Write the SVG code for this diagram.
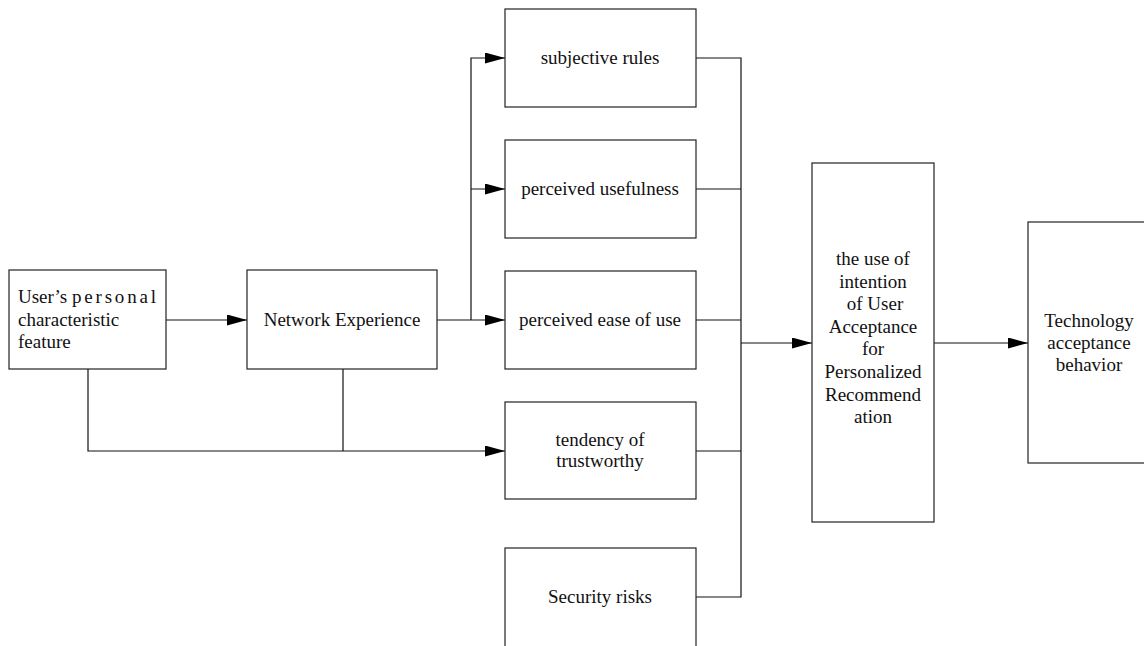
<svg xmlns="http://www.w3.org/2000/svg" width="1144" height="646" viewBox="0 0 1144 646">
<style>
.box{fill:#fff;stroke:#222;stroke-width:1.2}
.t{font-family:"Liberation Serif","Times New Roman",serif;font-size:19px;fill:#111}
.c{text-anchor:middle}
.ln{fill:none;stroke:#111;stroke-width:1.2}
</style>
<defs>
<marker id="ah" markerWidth="20" markerHeight="11" refX="20" refY="5.5" orient="auto" markerUnits="userSpaceOnUse">
<path d="M0,0 L20,5.5 L0,11 Z" fill="#000"/>
</marker>
</defs>
<rect width="1144" height="646" fill="#fff"/>
<g id="connectors">
<path class="ln" d="M166,320 H247" marker-end="url(#ah)"/>
<path class="ln" d="M437,320 H505" marker-end="url(#ah)"/>
<path class="ln" d="M471,320 V58 H505" marker-end="url(#ah)"/>
<path class="ln" d="M471,189 H505" marker-end="url(#ah)"/>
<path class="ln" d="M88,369 V451 H505" marker-end="url(#ah)"/>
<path class="ln" d="M343,369 V451"/>
<path class="ln" d="M696,58 H741 V597 H696"/>
<path class="ln" d="M696,189 H741"/>
<path class="ln" d="M696,320 H741"/>
<path class="ln" d="M696,451 H741"/>
<path class="ln" d="M741,343 H812" marker-end="url(#ah)"/>
<path class="ln" d="M934,343 H1028" marker-end="url(#ah)"/>
</g>
<g id="user">
<rect class="box" x="9" y="270" width="157" height="99"/>
<text class="t" x="18" y="303">User’s <tspan letter-spacing="2.8">personal</tspan></text>
<text class="t" x="18" y="326">characteristic</text>
<text class="t" x="18" y="348">feature</text>
</g>
<g id="network">
<rect class="box" x="247" y="270" width="190" height="99"/>
<text class="t c" x="342" y="326">Network Experience</text>
</g>
<g id="subjective">
<rect class="box" x="505" y="9" width="191" height="98"/>
<text class="t c" x="600" y="64">subjective rules</text>
</g>
<g id="usefulness">
<rect class="box" x="505" y="140" width="191" height="98"/>
<text class="t c" x="600" y="195">perceived usefulness</text>
</g>
<g id="ease">
<rect class="box" x="505" y="271" width="191" height="98"/>
<text class="t c" x="600" y="326">perceived ease of use</text>
</g>
<g id="trust">
<rect class="box" x="505" y="402" width="191" height="97"/>
<text class="t c" x="600" y="446">tendency of</text>
<text class="t c" x="600" y="467">trustworthy</text>
</g>
<g id="security">
<rect class="box" x="505" y="548" width="191" height="110"/>
<text class="t c" x="600" y="603">Security risks</text>
</g>
<g id="intention">
<rect class="box" x="812" y="163" width="122" height="359"/>
<text class="t c" x="873" y="265">the use of</text>
<text class="t c" x="873" y="288">intention</text>
<text class="t c" x="875" y="310">of User</text>
<text class="t c" x="873" y="333">Acceptance</text>
<text class="t c" x="873" y="355">for</text>
<text class="t c" x="873" y="378">Personalized</text>
<text class="t c" x="873" y="401">Recommend</text>
<text class="t c" x="873" y="423">ation</text>
</g>
<g id="technology">
<rect class="box" x="1028" y="222" width="125" height="241"/>
<text class="t c" x="1089" y="327">Technology</text>
<text class="t c" x="1089" y="349">acceptance</text>
<text class="t c" x="1089" y="371">behavior</text>
</g>
</svg>
